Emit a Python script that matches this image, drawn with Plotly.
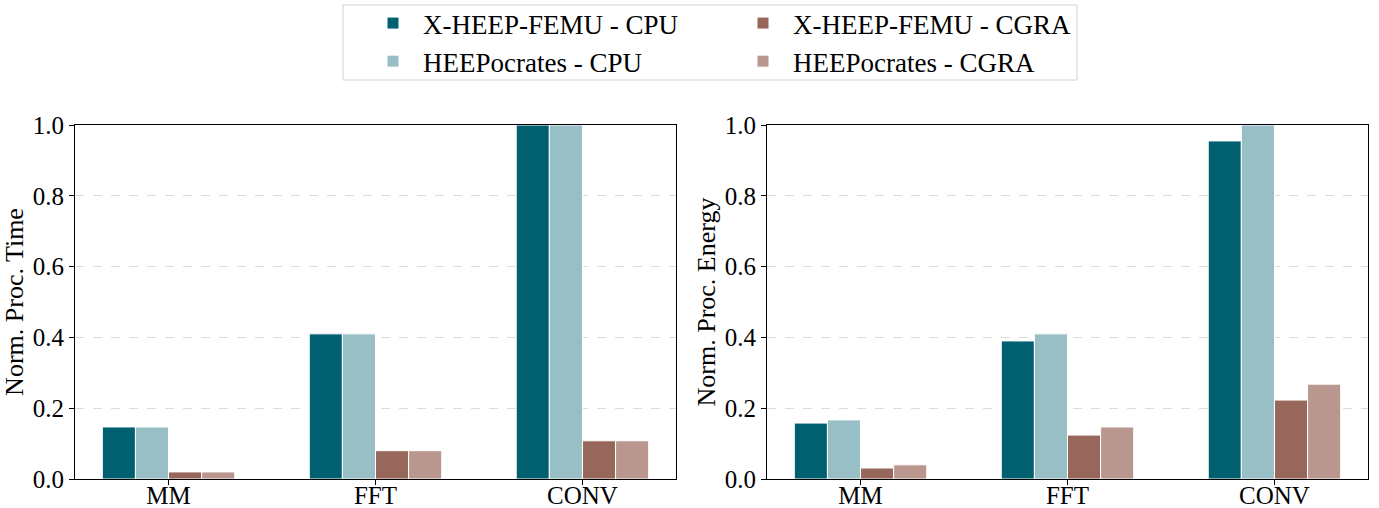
import plotly.graph_objects as go

categories = ["MM", "FFT", "CONV"]
series_names = ["X-HEEP-FEMU - CPU", "HEEPocrates - CPU", "X-HEEP-FEMU - CGRA", "HEEPocrates - CGRA"]
time_xheep_cpu = [0.147, 0.41, 1.0]
time_heep_cpu = [0.147, 0.41, 1.0]
time_xheep_cgra = [0.02, 0.08, 0.108]
time_heep_cgra = [0.02, 0.08, 0.108]
energy_xheep_cpu = [0.158, 0.39, 0.955]
energy_heep_cpu = [0.167, 0.41, 1.0]
energy_xheep_cgra = [0.031, 0.124, 0.223]
energy_heep_cgra = [0.04, 0.147, 0.268]
yticks = [0.0, 0.2, 0.4, 0.6, 0.8, 1.0]

colors = ["#006070", "#98bec6", "#98675b", "#b9978f"]
FONT = "Liberation Serif"
x = list(range(len(categories)))

fig = go.Figure()
time_data = [time_xheep_cpu, time_heep_cpu, time_xheep_cgra, time_heep_cgra]
energy_data = [energy_xheep_cpu, energy_heep_cpu, energy_xheep_cgra, energy_heep_cgra]
for i, (name, vals) in enumerate(zip(series_names, time_data)):
    fig.add_trace(go.Bar(x=x, y=vals, name=name, marker=dict(color=colors[i], line=dict(color="white", width=1)),
                         xaxis="x", yaxis="y", legend="legend" if i < 2 else "legend2", offsetgroup=str(i)))
for i, (name, vals) in enumerate(zip(series_names, energy_data)):
    fig.add_trace(go.Bar(x=x, y=vals, name=name, marker=dict(color=colors[i], line=dict(color="white", width=1)),
                         xaxis="x2", yaxis="y2", showlegend=False, offsetgroup=str(i)))

W, H = 1379, 508
ml, mr, mt, mb = 75, 11, 125, 29
pw = W - ml - mr
ph = H - mt - mb

def px_x(p):
    return (p - ml) / pw

def px_y(p):
    return (H - mb - p) / ph

axis_common = dict(showline=True, linecolor="black", linewidth=1, mirror=True, ticks="outside",
                   ticklen=5, tickcolor="black", automargin=False,
                   tickfont=dict(family=FONT, size=25, color="black"))
xcommon = dict(axis_common, tickvals=x, ticktext=categories, range=[-0.452, 2.452], showgrid=False,
               zeroline=False, ticklabelstandoff=-11)
ycommon = dict(axis_common, range=[0, 1.0], tickvals=yticks, ticktext=[f"{v:.1f}" for v in yticks],
               showgrid=True, gridcolor="#dcdcdc", gridwidth=0.8, griddash="dash", zeroline=False)

legfont = dict(family=FONT, size=27, color="black")
fig.update_layout(
    width=W, height=H,
    margin=dict(l=ml, r=mr, t=mt, b=mb, autoexpand=False),
    paper_bgcolor="white", plot_bgcolor="white",
    barmode="group", bargap=0.36, bargroupgap=0,
    xaxis=dict(xcommon, domain=[0, px_x(676)], anchor="y"),
    yaxis=dict(ycommon, domain=[0, 1], anchor="x",
               title=dict(text="Norm. Proc. Time", font=dict(family=FONT, size=26, color="black"), standoff=1)),
    xaxis2=dict(xcommon, domain=[px_x(767), 1], anchor="y2"),
    yaxis2=dict(ycommon, domain=[0, 1], anchor="x2",
                title=dict(text="Norm. Proc. Energy", font=dict(family=FONT, size=26, color="black"), standoff=1)),
    legend=dict(x=px_x(363), y=px_y(-1), xanchor="left", yanchor="top", orientation="v",
                font=legfont, bgcolor="rgba(0,0,0,0)", itemwidth=50, tracegroupgap=0),
    legend2=dict(x=px_x(733), y=px_y(-1), xanchor="left", yanchor="top", orientation="v",
                 font=legfont, bgcolor="rgba(0,0,0,0)", itemwidth=50, tracegroupgap=0),
    shapes=[dict(type="rect", xref="paper", yref="paper", x0=px_x(343), x1=px_x(1077), y0=px_y(80), y1=px_y(5),
                 line=dict(color="#d0d0d0", width=1), fillcolor="rgba(0,0,0,0)", layer="below")],
)

fig.write_html("out.html", config={"displayModeBar": False},
               post_script="document.body.style.margin='0';document.body.style.overflow='hidden';")
